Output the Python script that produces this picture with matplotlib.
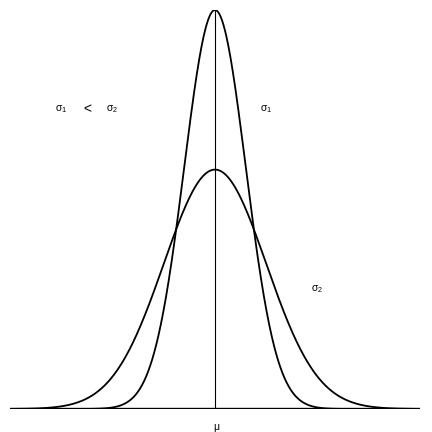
import numpy as np
import matplotlib
matplotlib.use("Agg")
import matplotlib.pyplot as plt

plt.rcParams["font.family"] = ["Liberation Sans", "DejaVu Sans"]
plt.rcParams["mathtext.fontset"] = "custom"
plt.rcParams["mathtext.rm"] = "Liberation Sans"
plt.rcParams["mathtext.it"] = "Liberation Sans"

# two normal densities sharing the same mean
mu = 0.0
sigmas = [0.6, 1.0]
x_range = [-4.0, 4.0]

# labels: (text, x, y, size)
labels = [
    (r"$\sigma_1$", -3.0, 0.50, 7.5),
    ("<", -2.5, 0.50, 10),
    (r"$\sigma_2$", -2.0, 0.50, 7.5),
    (r"$\sigma_1$", 1.0, 0.50, 7.5),
    (r"$\sigma_2$", 2.0, 0.20, 7.5),
]


def normal_pdf(x, m, s):
    return np.exp(-0.5 * ((x - m) / s) ** 2) / (s * np.sqrt(2 * np.pi))


fig = plt.figure(figsize=(4.32, 4.32), dpi=100)
ax = fig.add_axes([10 / 432, 23 / 432, 410 / 432, 399 / 432])

x = np.linspace(x_range[0], x_range[1], 800)
for s in sigmas:
    ax.plot(x, normal_pdf(x, mu, s), color="black", lw=1.3)

top = normal_pdf(mu, mu, min(sigmas))
ax.plot(x_range, [0, 0], color="black", lw=1.7, solid_capstyle="butt")
ax.plot([mu, mu], [0, top], color="black", lw=0.8)

for text, tx, ty, size in labels:
    ax.text(tx, ty, text, ha="center", va="center", fontsize=size)

ax.set_xlim(*x_range)
ax.set_ylim(0, top)
ax.axis("off")

# mu label under the baseline, placed in figure coordinates
fig.text(216 / 432, 1 - 427 / 432, "μ", ha="center", va="center", fontsize=7.5)

fig.savefig("out.png", dpi=100)
